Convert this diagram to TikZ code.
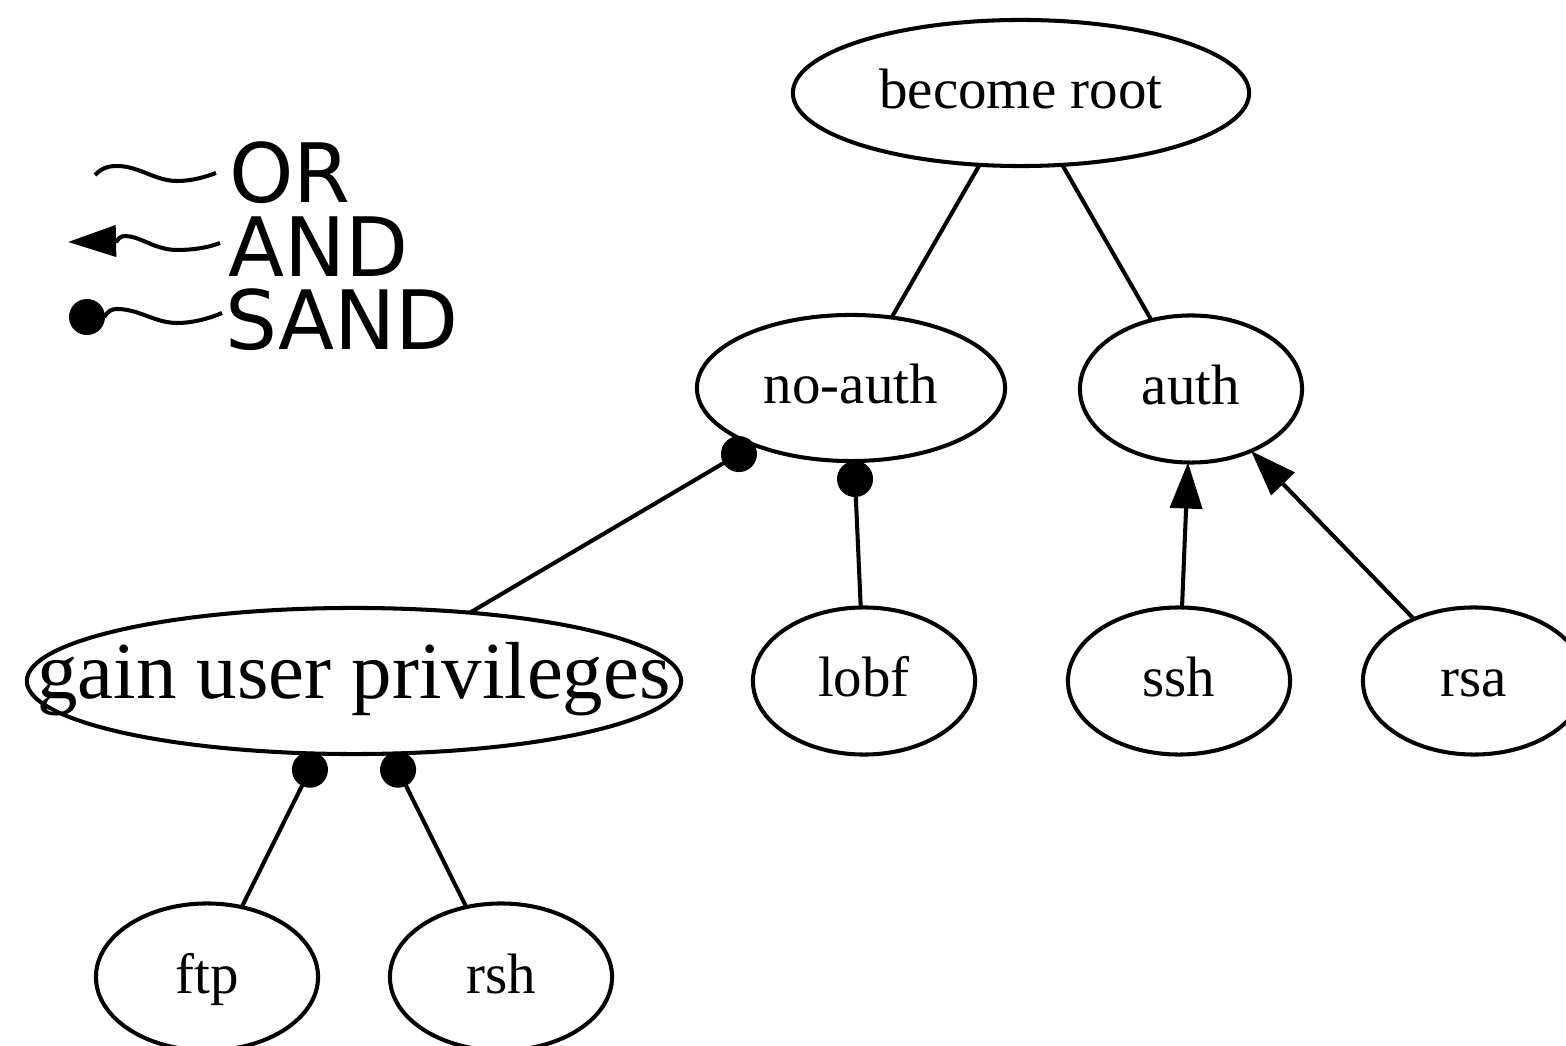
\documentclass[tikz,border=0pt]{standalone}
\usepackage{fontspec}
\setmainfont{Liberation Serif}
\newfontfamily\legendfont{DejaVu Sans}
\usetikzlibrary{arrows.meta,shapes.geometric}
\begin{document}
\begin{tikzpicture}[x=0.01cm,y=-0.01cm,
  gnode/.style={ellipse,draw,line width=1.15pt,inner sep=0pt,outer sep=0pt,
    minimum width=2.22cm,minimum height=1.47cm,text height=9.1pt,text depth=0pt,
    font=\fontsize{16.2}{19}\selectfont},
  bignode/.style={gnode,text height=10.2pt,font=\fontsize{23}{27}\selectfont},
  oredge/.style={line width=1.15pt},
  andedge/.style={line width=1.15pt,-{Triangle[length=0.46cm,width=0.32cm]}},
  sandedge/.style={line width=1.15pt,-{Circle[length=0.36cm]}},
  legtext/.style={inner sep=0pt,outer sep=0pt,anchor=base west,
    font=\legendfont\fontsize{23.3}{27}\selectfont},
  wave/.style={line width=1.15pt}
]
\useasboundingbox (0,0) rectangle (1566,1046);
\clip (0,0) rectangle (1566,1046);

% nodes
\node[gnode,minimum width=4.56cm,minimum height=1.46cm] (root) at (1021,93) {become root};
\node[gnode,minimum width=3.08cm,minimum height=1.46cm] (noauth) at (851,388) {no-auth};
\node[gnode] (auth) at (1191,389) {auth};
\node[bignode,minimum width=6.54cm,minimum height=1.46cm] (gup) at (354,681) {\makebox[0pt]{gain user privileges}};
\node[gnode] (lobf) at (864,681) {lobf};
\node[gnode] (ssh) at (1179,681) {ssh};
\node[gnode] (rsa) at (1474,681) {rsa};
\node[gnode] (ftp) at (207,977) {ftp};
\node[gnode] (rsh) at (501,977) {rsh};

% edges
\draw[oredge] (root) -- (noauth);
\draw[oredge] (root) -- (auth);
\draw[sandedge] (gup) -- (noauth);
\draw[sandedge] (lobf) -- (noauth);
\draw[sandedge] (ftp) -- (gup);
\draw[sandedge] (rsh) -- (gup);
\draw[andedge] (ssh) -- (auth);
\draw[andedge] (rsa) -- (auth);

% legend
\node[legtext] (lor) at (229,203) {OR};
\node[legtext] (land) at (228,277) {AND};
\node[legtext] (lsand) at (225,350) {SAND};

\coordinate (orA) at (95,175);
\coordinate (orB) at (216,173);
\draw[wave] (orA) .. controls (102,168) and (108,166) .. (117,166)
  .. controls (139,166) and (155,181) .. (177,181)
  .. controls (192,181) and (205,177) .. (orB);

\coordinate (andB) at (220,243);
\coordinate (andA) at (68,242);
\draw[wave,-{Triangle[length=0.48cm,width=0.31cm]}] (andB)
  .. controls (207,248) and (192,250) .. (177,250)
  .. controls (155,250) and (140,236) .. (125,236)
  .. controls (121,236) and (119,238) .. (117,241) -- (andA);

\coordinate (sandB) at (222,313);
\coordinate (sandA) at (69,318);
\draw[wave,-{Circle[length=0.36cm]}] (sandB)
  .. controls (208,319) and (192,323) .. (177,323)
  .. controls (155,323) and (139,309) .. (117,309)
  .. controls (112,309) and (108,311) .. (105,316) -- (sandA);
\end{tikzpicture}
\end{document}
